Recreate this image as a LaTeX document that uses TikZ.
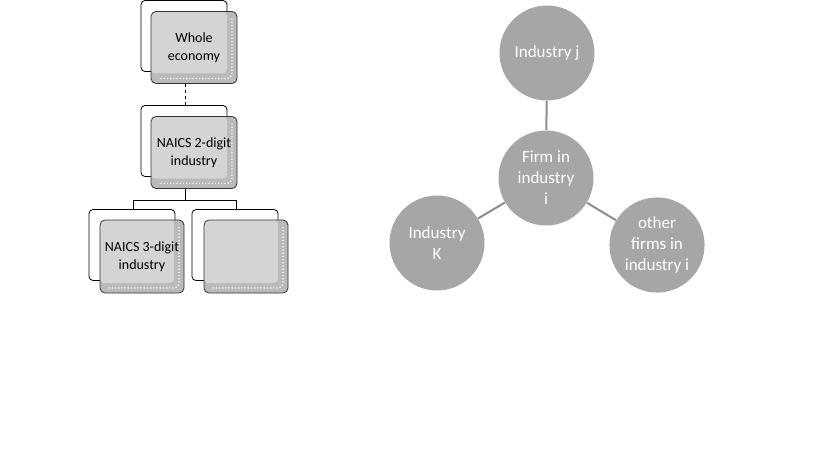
\documentclass[tikz,border=0pt]{standalone}
\usepackage{fontspec}
\setmainfont{Carlito}
\usepackage{xcolor}
\usetikzlibrary{positioning}

\definecolor{boxgray}{HTML}{D4D4D4}
\definecolor{rimgray}{HTML}{BABABA}
\definecolor{discgray}{HTML}{A6A6A6}
\definecolor{linegray}{HTML}{8C8C8C}

\tikzset{
  backbox/.style={draw=black, fill=white, rounded corners=4pt, minimum width=86pt, minimum height=71pt, line width=0.8pt},
  levelbox/.style={draw=black!80, line width=0.8pt, fill=rimgray, rounded corners=5pt,
    minimum width=86pt, minimum height=72pt, align=center, font=\fontsize{14}{18}\selectfont,
    path picture={
      \fill[boxgray, rounded corners=4pt] (path picture bounding box.north west)
        rectangle ([xshift=-10pt, yshift=10pt]path picture bounding box.south east);
      \draw[white, dotted, line width=1.2pt]
        ([xshift=-5pt, yshift=-7pt]path picture bounding box.north east)
        -- ([xshift=-5pt, yshift=5pt]path picture bounding box.south east)
        -- ([xshift=7pt, yshift=5pt]path picture bounding box.south west);
    }},
  disc/.style={circle, fill=discgray, minimum size=95pt, text=white, align=center, font=\fontsize{17}{21}\selectfont},
  link/.style={draw=linegray, line width=2pt}
}

\begin{document}
\begin{tikzpicture}[x=1pt, y=-1pt, thick]
\useasboundingbox (0,0) rectangle (819,460);

% hierarchy of industries
\node[backbox] (wholeB) at (184,36) {};
\node[levelbox] (whole) at (194,47.5) {Whole\\economy};
\node[backbox] (twoB) at (184,141) {};
\node[levelbox] (two) at (194,152.5) {NAICS 2-digit\\industry};
\node[backbox] (threeB) at (132,245) {};
\node[levelbox, minimum width=84pt, minimum height=73pt] (three) at (142,256.5) {NAICS 3-digit\\industry};
\node[backbox] (otherB) at (235,245) {};
\node[levelbox, minimum width=84pt, minimum height=73pt] (other) at (246,256.5) {};

\coordinate (fork) at (185,200);
\coordinate (forkL) at (133,200);
\coordinate (forkR) at (236,200);

\draw[dashed, line width=0.8pt] (whole.south -| fork) -- (twoB.north -| fork);
\draw[line width=0.8pt] (two.south -| fork) -- (fork);
\draw[line width=0.8pt] (forkL) -- (forkR);
\draw[line width=0.8pt] (forkL) -- (threeB.north -| forkL);
\draw[line width=0.8pt] (forkR) -- (otherB.north -| forkR);

% links of a firm
\node[disc] (firm) at (546,178) {Firm in\\industry\\i};
\node[disc] (indj) at (547,53) {Industry j};
\node[disc] (indk) at (437,243) {Industry\\K};
\node[disc] (rest) at (657,245) {other\\firms in\\industry i};

\draw[link] (firm) -- (indj);
\draw[link] (firm) -- (indk);
\draw[link] (firm) -- (rest);
\end{tikzpicture}
\end{document}
